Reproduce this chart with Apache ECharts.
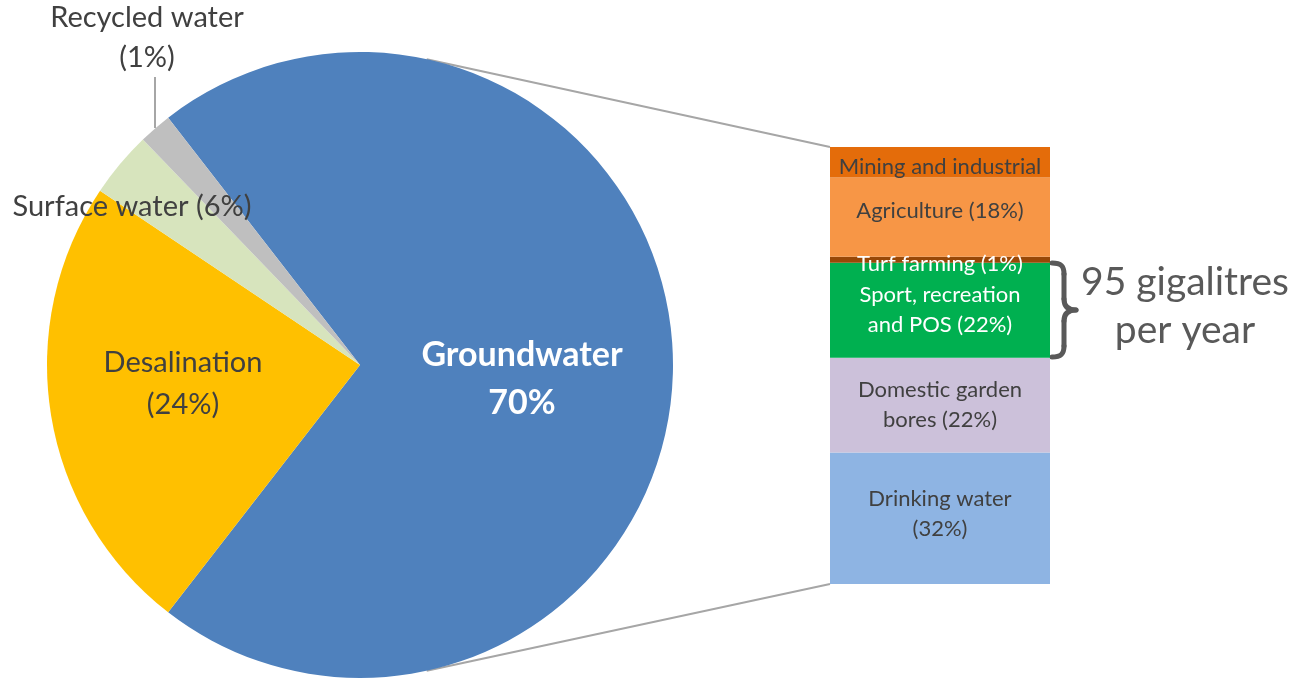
<!DOCTYPE html>
<html>
<head>
<meta charset="utf-8">
<script src="https://cdn.jsdelivr.net/npm/echarts@6/dist/echarts.min.js"></script>
<style>
html,body{margin:0;padding:0;background:#fff;}
#chart{width:1292px;height:679px;}
</style>
</head>
<body>
<div id="chart"></div>
<script>
// ---- Data ----
const pieNames = ['Groundwater', 'Desalination', 'Surface water', 'Recycled water'];
const pieValues = [71, 23.9, 3.4, 1.7];
const pieLabels = ['Groundwater\n70%', 'Desalination\n(24%)', 'Surface water (6%)', 'Recycled water\n(1%)'];

// stacked bar, bottom to top
const barNames = ['Drinking water', 'Domestic garden bores', 'Sport, recreation and POS', 'Turf farming', 'Agriculture', 'Mining and industrial'];
const barValues = [30.1, 21.7, 21.7, 1.4, 18.1, 7.0];
const barLabels = ['Drinking water\n(32%)', 'Domestic garden\nbores (22%)', 'Sport, recreation\nand POS (22%)', 'Turf farming (1%)', 'Agriculture (18%)', 'Mining and industrial'];
const braceText = '95 gigalitres\nper year';

// ---- Styles / layout ----
const FONT = 'Lato, "Open Sans", sans-serif';
const pieColors = ['#4F81BD', '#FFC000', '#D7E4BD', '#BFBFBF'];
const barColors = ['#8EB4E3', '#CCC1DA', '#00B050', '#984807', '#F79646', '#E46C0A'];
const barLabelColors = ['#404040', '#404040', '#ffffff', '#ffffff', '#404040', '#404040'];
const barLabelOffsets = [[0,-4],[0,0],[0,0],[0,4],[0,-6],[0,5]];
const cx = 360, cy = 365, R = 313;
const gLeft = 830, gTop = 147, gW = 220, gH = 437;
const labelPos = {
  'Groundwater': [522, 379],
  'Desalination': [183, 384],
  'Surface water': [132, 207],
  'Recycled water': [147, 38]
};
const startAngle = pieValues[0] / pieValues.reduce((a,b)=>a+b,0) * 360 / 2;
const connAngle = 77.7 * Math.PI / 180;
const pTop = [cx + R * Math.cos(connAngle), cy - R * Math.sin(connAngle)];
const pBot = [cx + R * Math.cos(connAngle), cy + R * Math.sin(connAngle)];
const barTotal = barValues.reduce((a,b)=>a+b,0);

const chart = echarts.init(document.getElementById('chart'), null, {renderer:'canvas'});

const pieData = pieNames.map((n, i) => {
  const d = {name: n, value: pieValues[i], itemStyle: {color: pieColors[i]}};
  if (i === 0) d.label = {position:'inside', color:'#fff', fontWeight:'bold', fontSize:34, lineHeight:48};
  else if (i === 1) d.label = {position:'inside', color:'#404040', fontSize:29, lineHeight:42};
  else if (i === 2) d.label = {position:'outside', color:'#404040', fontSize:29};
  else {
    d.label = {position:'outside', color:'#404040', fontSize:29, lineHeight:40};
    d.labelLine = {show:true, lineStyle:{color:'#A6A6A6', width:2}};
  }
  return d;
});

const barSeries = barNames.map((n, i) => ({
  type: 'bar',
  name: n,
  stack: 'gw',
  barWidth: '100%',
  data: [barValues[i]],
  itemStyle: {color: barColors[i]},
  label: {
    show: true,
    position: 'inside',
    formatter: barLabels[i],
    color: barLabelColors[i],
    fontFamily: FONT,
    fontSize: 22,
    lineHeight: 30,
    offset: barLabelOffsets[i]
  },
  emphasis: {disabled: true},
  xAxisIndex: 0, yAxisIndex: 0
}));

const BR = {stroke: '#595959', lineWidth: 5, fill: null, lineCap: 'round'};
const option = {
  animation: false,
  textStyle: {fontFamily: FONT},
  grid: {left: gLeft, top: gTop, width: gW, height: gH},
  xAxis: {type: 'category', data: ['Groundwater use'], show: false, boundaryGap: true},
  yAxis: {type: 'value', min: 0, max: barTotal, show: false},
  series: [
    {
      type: 'pie',
      center: [cx, cy],
      radius: R,
      startAngle: startAngle,
      clockwise: true,
      avoidLabelOverlap: false,
      silent: true,
      data: pieData,
      label: {
        show: true,
        fontFamily: FONT,
        formatter: p => pieLabels[p.dataIndex]
      },
      labelLine: {show: false},
      labelLayout: function (params) {
        const name = pieNames[params.dataIndex];
        const pos = labelPos[name];
        const res = {x: pos[0], y: pos[1], align: 'center', verticalAlign: 'middle'};
        if (name === 'Recycled water') {
          res.labelLinePoints = [[155, 128], [155, 102], [155, 77]];
        }
        return res;
      }
    }
  ].concat(barSeries),
  graphic: [
    {type: 'line', shape: {x1: pTop[0], y1: pTop[1], x2: gLeft, y2: gTop}, style: {stroke: '#A6A6A6', lineWidth: 2}, z: 1},
    {type: 'line', shape: {x1: pBot[0], y1: pBot[1], x2: gLeft, y2: gTop + gH}, style: {stroke: '#A6A6A6', lineWidth: 2}, z: 1},
    {type: 'bezierCurve', shape: {x1:1052, y1:263, cpx1:1061, cpy1:263, cpx2:1064, cpy2:266, x2:1064, y2:274}, style: BR},
    {type: 'line', shape: {x1:1064, y1:274, x2:1064, y2:299}, style: BR},
    {type: 'bezierCurve', shape: {x1:1064, y1:299, cpx1:1064, cpy1:306, cpx2:1068, cpy2:310, x2:1076, y2:310}, style: BR},
    {type: 'bezierCurve', shape: {x1:1076, y1:310, cpx1:1068, cpy1:310, cpx2:1064, cpy2:314, x2:1064, y2:321}, style: BR},
    {type: 'line', shape: {x1:1064, y1:321, x2:1064, y2:346}, style: BR},
    {type: 'bezierCurve', shape: {x1:1064, y1:346, cpx1:1064, cpy1:354, cpx2:1061, cpy2:357, x2:1052, y2:357}, style: BR},
    {type: 'text', x: 1185, y: 306, style: {text: braceText, font: '39px ' + FONT, lineHeight: 48, fill: '#595959', align: 'center', verticalAlign: 'middle'}}
  ]
};
chart.setOption(option);
</script>
</body>
</html>
